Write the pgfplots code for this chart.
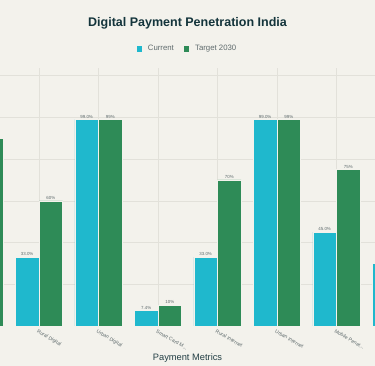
\documentclass[border=0pt]{standalone}
\usepackage{fontspec}
\setmainfont{Liberation Sans}
\usepackage{pgfplots}
\pgfplotsset{compat=1.18}
\usetikzlibrary{calc}
\pgfdeclarelayer{background}
\pgfsetlayers{background,main}
\definecolor{bg}{HTML}{F3F2EC}
\definecolor{cteal}{HTML}{1FB8CD}
\definecolor{sgreen}{HTML}{2E8B57}
\definecolor{gridc}{HTML}{E2E1DA}
\definecolor{titlec}{HTML}{13343B}
\definecolor{labc}{HTML}{5F6B6D}
\begin{document}
\begin{tikzpicture}[x=1pt,y=1pt]
\begin{axis}[scale only axis,
  width=375pt, height=258pt,
  xmin=0.3445, xmax=6.647, ymin=0, ymax=123.6,
  ybar=0pt, bar width=0.398,
  xtick={0,1,2,3,4,5,6,7},
  xticklabels={{},{Rural Digital},{Urban Digital},{Smart Card M.{}.{}.},{Rural Internet},{Urban Internet},{Mobile Penet.{}.{}.},{}},
  ytick={20,40,60,80,100,120}, yticklabels={},
  grid=major, grid style={gridc, line width=0.5pt},
  major tick length=0pt,
  axis line style={draw=none},
  xticklabel style={rotate=-30, anchor=north west, font=\fontsize{5}{6}\selectfont, text=labc, inner sep=1pt, yshift=-2pt},
  title={Digital Payment Penetration India},
  title style={at={(axis description cs:0.5,1.15)}, anchor=center, font=\fontsize{12.5}{15}\selectfont\bfseries, text=titlec},
  xlabel={Payment Metrics},
  xlabel style={at={(axis description cs:0.5,-0.124)}, anchor=center, font=\fontsize{9.3}{11}\selectfont, text=titlec!85!gray},
  legend style={at={(axis description cs:0.5,1.074)}, anchor=center, draw=none, fill=none, legend columns=2,
    font=\fontsize{7.8}{9}\selectfont, text=labc,
    /tikz/every even column/.append style={column sep=8pt}},
  legend image code/.code={\fill[#1, draw=none] (0pt,-2.7pt) rectangle (5.4pt,2.7pt); \path (9pt,0pt);},
  nodes near coords, point meta=explicit symbolic,
  every node near coord/.append style={font=\fontsize{4.4}{5}\selectfont, text=labc, inner sep=1pt},
]
\addplot[fill=cteal, draw=bg, line width=0.4pt] coordinates {
  (1,33)[33.0\%] (2,99)[99.0\%] (3,7.4)[7.4\%] (4,33)[33.0\%] (5,99)[99.0\%] (6,45)[45.0\%] (7,30)[30.0\%]};
\addplot[fill=sgreen, draw=bg, line width=0.4pt] coordinates {
  (0,90)[90\%] (1,60)[60\%] (2,99)[99\%] (3,10)[10\%] (4,70)[70\%] (5,99)[99\%] (6,75)[75\%]};
\legend{Current, Target 2030}
\draw[black!35, line width=0.8pt] (axis cs:0.3445,0) -- (axis cs:6.647,0);
\coordinate (pbl) at (rel axis cs:0,0);
\end{axis}
\begin{pgfonlayer}{background}
\fill[bg] ($(pbl)+(0,-40)$) rectangle ++(375,366);
\end{pgfonlayer}
\pgfresetboundingbox
\path[use as bounding box] ($(pbl)+(0,-40)$) rectangle ++(375,366);
\end{tikzpicture}
\end{document}
